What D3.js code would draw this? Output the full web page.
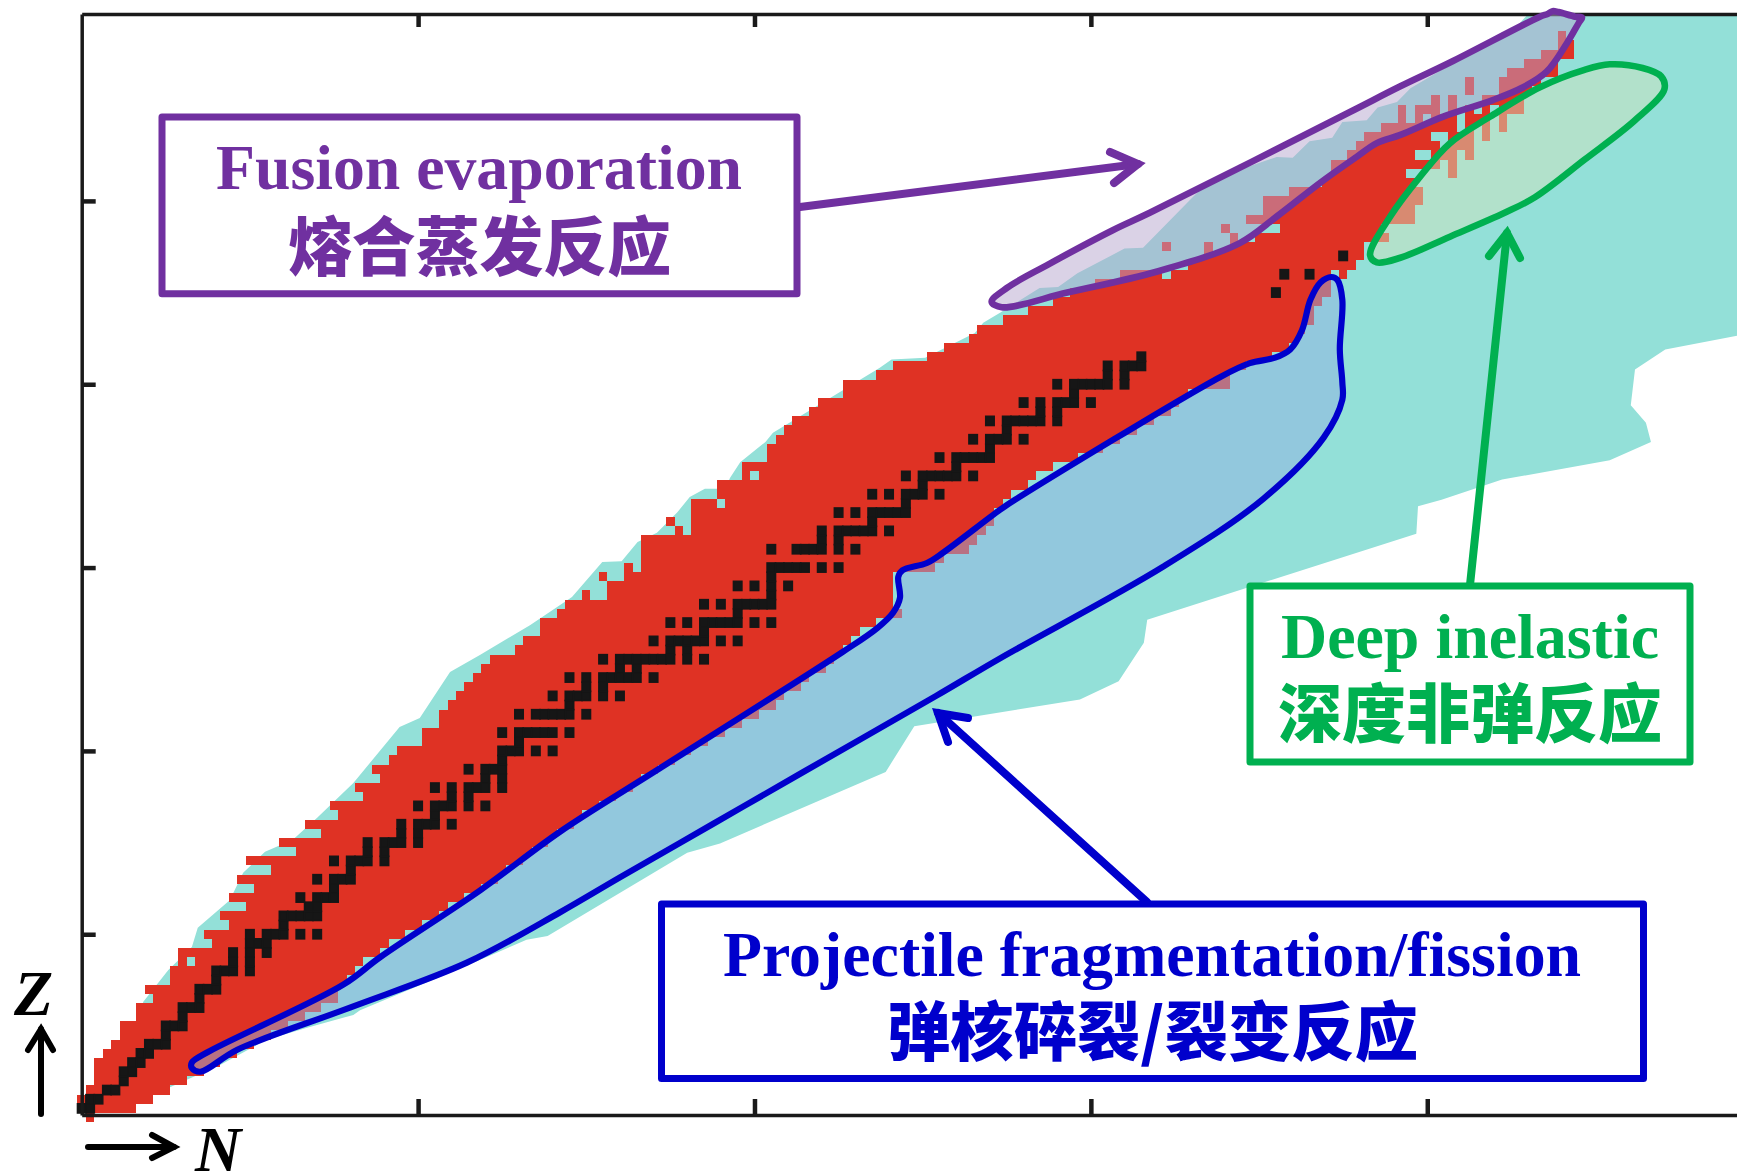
<!DOCTYPE html>
<html><head><meta charset="utf-8">
<script src="https://cdnjs.cloudflare.com/ajax/libs/d3/7.8.5/d3.min.js"></script>
<style>html,body{margin:0;padding:0;background:#fff}svg{display:block}</style>
</head><body><svg id="c" width="1737" height="1172"></svg>
<script>
// Axis ticks (unlabelled in the original)
const nTicks=[40,80,120,160];
const zTicks=[20,40,60,80,100];

// Measured nuclides: [Z, first N, last N]
const measuredRuns=[[0,1,1],[1,0,6],[2,0,8],[3,1,10],[4,2,12],[5,2,14],[6,2,16],[7,3,18],[8,4,20],[9,5,22],[10,5,24],[11,7,26],[12,7,28],[13,9,30],[14,8,30],[15,11,31],[16,11,32],[17,12,12],[17,14,33],[18,12,35],[19,16,36],[20,15,38],[21,18,40],[22,17,42],[23,20,43],[24,18,45],[25,21,47],[26,19,49],[27,23,50],[28,20,52],[29,26,53],[30,24,55],[31,29,56],[32,27,58],[33,31,59],[34,30,61],[35,34,63],[36,33,65],[37,36,66],[38,35,68],[39,37,70],[40,38,72],[41,41,74],[42,41,76],[43,43,78],[44,43,80],[45,44,82],[46,45,83],[47,46,85],[48,47,86],[49,48,88],[50,49,89],[51,52,90],[52,53,91],[53,55,92],[54,55,94],[55,57,97],[56,58,96],[57,60,60],[57,63,96],[58,63,96],[59,62,62],[59,65,96],[60,65,65],[60,67,101],[61,67,102],[62,67,105],[63,67,106],[64,71,71],[64,73,107],[65,70,70],[65,73,108],[66,73,108],[67,73,75],[67,77,109],[68,76,110],[69,76,112],[70,79,79],[70,81,113],[71,79,115],[72,82,118],[73,82,121],[74,83,123],[75,84,125],[76,85,127],[77,87,129],[78,88,130],[79,91,131],[80,91,136],[81,95,136],[82,97,138],[83,101,141],[84,103,143],[85,106,144],[86,107,145],[87,110,146],[88,113,146],[89,116,147],[90,118,148],[91,121,148],[92,124,128],[92,130,148],[92,150,150],[93,132,151],[94,134,152],[95,129,129],[95,134,134],[95,137,152],[96,137,137],[96,140,155],[97,136,136],[97,143,154],[98,139,158],[99,141,158],[100,141,159],[101,144,159],[102,148,158],[103,149,157],[103,163,163],[104,149,161],[104,163,163],[105,151,158],[105,161,163],[105,165,165],[106,152,161],[106,163,165],[107,153,160],[107,163,165],[107,167,167],[108,155,163],[108,165,165],[108,167,167],[108,169,169],[109,157,157],[109,159,159],[109,161,163],[109,165,167],[109,169,169],[110,157,157],[110,159,161],[110,163,163],[110,165,165],[110,167,167],[110,169,171],[111,161,161],[111,163,163],[111,167,171],[112,165,165],[112,169,172],[113,165,165],[113,169,173],[114,170,175],[115,172,175],[116,174,177],[117,176,177],[118,176,176]];

// Stable nuclides: [Z, list of N]
const stableRows=[[1,[0,1]],[2,[1,2]],[3,[3,4]],[4,[5]],[5,[5,6]],[6,[6,7]],[7,[7,8]],[8,[8,9,10]],[9,[10]],[10,[10,11,12]],[11,[12]],[12,[12,13,14]],[13,[14]],[14,[14,15,16]],[15,[16]],[16,[16,17,18,20]],[17,[18,20]],[18,[18,20,22]],[19,[20,21,22]],[20,[20,22,23,24,26,28]],[21,[24]],[22,[24,25,26,27,28]],[23,[27,28]],[24,[26,28,29,30]],[25,[30]],[26,[28,30,31,32]],[27,[32]],[28,[30,32,33,34,36]],[29,[34,36]],[30,[34,36,37,38,40]],[31,[38,40]],[32,[38,40,41,42,44]],[33,[42]],[34,[40,42,43,44,46,48]],[35,[44,46]],[36,[42,44,46,47,48,50]],[37,[48,50]],[38,[46,48,49,50]],[39,[50]],[40,[50,51,52,54,56]],[41,[52]],[42,[50,52,53,54,55,56,58]],[44,[52,54,55,56,57,58,60]],[45,[58]],[46,[56,58,59,60,62,64]],[47,[60,62]],[48,[58,60,62,63,64,65,66,68]],[49,[64,66]],[50,[62,64,65,66,67,68,69,70,72,74]],[51,[70,72]],[52,[68,70,71,72,73,74,76,78]],[53,[74]],[54,[70,72,74,75,76,77,78,80,82]],[55,[78]],[56,[74,76,78,79,80,81,82]],[57,[82]],[58,[78,80,82,84]],[59,[82]],[60,[82,83,84,85,86,88,90]],[62,[82,85,86,87,88,90,92]],[63,[88,90]],[64,[88,90,91,92,93,94,96]],[65,[94]],[66,[90,92,94,95,96,97,98]],[67,[98]],[68,[94,96,98,99,100,102]],[69,[100]],[70,[98,100,101,102,103,104,106]],[71,[104]],[72,[102,104,105,106,107,108]],[73,[108]],[74,[106,108,109,110,112]],[75,[110]],[76,[108,110,111,112,113,114,116]],[77,[114,116]],[78,[112,114,116,117,118,120]],[79,[118]],[80,[116,118,119,120,121,122,124]],[81,[122,124]],[82,[122,124,125,126]],[83,[126]],[90,[142]],[92,[143,146]],[94,[150]]];

// Theoretically predicted region outline: [N, Z]
const predictedOutline=[[7.3,12.6],[10.3,16.1],[13.1,18.6],[13.8,20.7],[17.6,23.7],[19.2,26.7],[21.8,29],[25.1,30.3],[28,32.7],[32.3,36.5],[37.8,42.6],[40.2,43.6],[43.8,48.6],[47.4,50.5],[53.3,53.7],[58.3,56.8],[61.9,60.6],[64.2,60.7],[66.1,62.8],[68.4,63.8],[70.8,66],[72.3,67.7],[74.1,68.6],[76.5,68.6],[77.1,69.8],[78.3,71.5],[81.3,73.7],[82.2,74.7],[94.9,81.8],[96.3,82.7],[100.3,82.9],[106.2,85.6],[107.2,86.7],[109.2,87.8],[113.9,90.5],[116.1,90.6],[118.4,92.1],[124,94.8],[126.2,94.9],[132.1,100.4],[134.2,102.3],[142.1,104.8],[144,104.7],[146,106.5],[148.7,106.9],[149.9,108.6],[152.8,108.8],[154.1,110.2],[156.4,110.8],[158,112.3],[170.8,119.2],[172,120.39],[196.83,120.39],[196.83,85.3],[188.3,83.8],[184.7,81.6],[184.2,77.7],[186,75.8],[186.6,73.7],[181.7,71.7],[168.9,69.6],[161.7,67.4],[158.9,66.7],[158.7,63.7],[126.7,54.3],[126.3,51.8],[123.3,47.6],[118.7,45.6],[99,42.7],[95.6,37.7],[75.9,29.9],[72,28.9],[55.4,19.8],[52.9,19.4],[45.6,16.5],[33.1,11.7],[32.3,11.2],[26.8,9.8],[22,8.5],[16.4,5.7],[10.5,3.3],[7,1.9]];

// Reaction regions: [N, Z]
const fragmentationRegion=[[13.1,5.4],[14.1,5],[18.5,7.4],[31.9,12],[45.8,16.9],[56.9,22.4],[64,26.2],[75,32],[85.8,37.7],[101.6,46],[109.2,50.1],[128.6,60.1],[140.5,67.5],[147.7,74.2],[149.9,78.3],[149.9,80.2],[149.6,83.8],[149.9,89.2],[149.3,91.4],[148.6,91.7],[147.3,91.1],[146.1,89.2],[145.1,85.9],[143.7,83.8],[141.9,82.9],[138.9,82.3],[135.4,80.8],[111,67.4],[109.2,66.3],[102.4,61.6],[100.5,60.5],[97.6,59.7],[97.1,59],[97.3,56.7],[96.5,55.1],[94.6,53.4],[90.5,50.8],[68.4,37.9],[56.9,31.2],[47.4,24.8],[35.5,17.5],[31.1,14.5],[14.9,7.1],[13.1,6]];
const fusionRegion=[[108.2,89],[109.4,88.4],[117.2,90],[127.9,92.3],[137.7,95.4],[142.1,98.3],[147.3,102],[151.6,104.8],[154,106.3],[156.8,107.2],[161.9,109.2],[167.8,111],[171.4,112.4],[174.2,114.1],[176.6,117.2],[178,119.4],[178.4,120],[177.6,120.1],[175.6,120.6],[174.9,120.7],[174.3,120.4],[173.4,120.1],[162.7,115.1],[156.8,112.5],[150.8,109.7],[127,98.7],[122.6,96.8],[114.8,93],[110,90.5]];
const inelasticRegion=[[153.2,94.1],[154,93.3],[156.8,93.8],[162.7,96.1],[169.2,98.7],[172.8,100.4],[178.7,104.5],[184.7,108.8],[188.2,112.2],[187.8,113.6],[185.6,114.5],[181.7,114.9],[178.7,114.3],[173.4,112.4],[167.5,109.2],[162.7,106.3],[159.1,102.6],[155.6,98.3]];

// Text
const fusionText=["Fusion evaporation","熔合蒸发反应"];
const fragText=["Projectile fragmentation/fission","弹核碎裂/裂变反应"];
const inelText=["Deep inelastic","深度非弹反应"];

const svg=d3.select("#c");
const xN=d3.scaleLinear().domain([0,196.83]).range([81.7,1737]);
const yZ=d3.scaleLinear().domain([0.28,120.39]).range([1115,14]);

const RED="#df3224",TEAL="#93e0d8",BLK="#161616";
const PURPLE="#7030a0",BLUE="#0000cc",GREEN="#00b050";

// predicted region
const straight=d3.line().x(d=>xN(d[0])).y(d=>yZ(d[1])).curve(d3.curveLinearClosed);
svg.append("path").attr("d",straight(predictedOutline)).attr("fill",TEAL);

// measured cells
svg.append("g").attr("shape-rendering","crispEdges").selectAll("rect").data(measuredRuns).join("rect")
  .attr("x",d=>xN(d[1]-.5)).attr("width",d=>xN(d[2]+.5)-xN(d[1]-.5))
  .attr("y",d=>yZ(d[0]+.5)).attr("height",d=>yZ(d[0]-.5)-yZ(d[0]+.5))
  .attr("fill",RED);

// stable cells
const stableCells=stableRows.flatMap(([z,ns])=>ns.map(n=>[z,n]));
svg.append("g").selectAll("rect").data(stableCells).join("rect")
  .attr("x",d=>xN(d[1]-.5)).attr("width",d=>xN(d[1]+.5)-xN(d[1]-.5))
  .attr("y",d=>yZ(d[0]+.5)).attr("height",d=>yZ(d[0]-.5)-yZ(d[0]+.5))
  .attr("fill",BLK).attr("stroke",BLK).attr("stroke-width",1.6);

// axes
function styleAxis(g){
  g.selectAll("path.domain").attr("stroke","#1a1a1a").attr("stroke-width",3.5);
  g.selectAll(".tick line").attr("stroke","#1a1a1a").attr("stroke-width",4.5);
  g.selectAll("text").remove();
}
svg.append("g").attr("transform","translate(0,1115)").call(d3.axisBottom(xN).tickValues(nTicks).tickSize(-16).tickSizeOuter(0)).call(styleAxis);
svg.append("g").attr("transform","translate(0,14)").call(d3.axisTop(xN).tickValues(nTicks).tickSize(-13).tickSizeOuter(0)).call(styleAxis);
svg.append("g").attr("transform","translate(81.7,0)").call(d3.axisLeft(yZ).tickValues(zTicks).tickSize(-14).tickSizeOuter(0)).call(styleAxis);

// reaction regions
const smooth=d3.line().x(d=>xN(d[0])).y(d=>yZ(d[1])).curve(d3.curveCatmullRomClosed.alpha(.5));
[[fragmentationRegion,"rgba(145,175,225,.5)",BLUE,6.2],
 [fusionRegion,"rgba(181,165,205,.5)",PURPLE,6.6],
 [inelasticRegion,"rgba(210,226,190,.5)",GREEN,6.6]].forEach(([pts,f,s,w])=>{
  svg.append("path").attr("d",smooth(pts)).attr("fill",f).attr("stroke",s).attr("stroke-width",w).attr("stroke-linejoin","round");
});

// annotation boxes
function box(x0,y0,x1,y1,col,lines,t1,t2){
  svg.append("rect").attr("x",x0).attr("y",y0).attr("width",x1-x0).attr("height",y1-y0)
    .attr("fill","#fff").attr("stroke",col).attr("stroke-width",7).attr("stroke-linejoin","round");
  svg.append("text").text(lines[0]).attr("x",t1[0]).attr("y",t1[1]).attr("textLength",t1[2]).attr("lengthAdjust","spacingAndGlyphs")
    .attr("font-family","'Liberation Serif',serif").attr("font-weight",700).attr("font-size",64).attr("fill",col);
  svg.append("text").text(lines[1]).attr("x",t2[0]).attr("y",t2[1]).attr("textLength",t2[2]).attr("lengthAdjust","spacingAndGlyphs")
    .attr("font-family","'Noto Sans CJK SC',sans-serif").attr("font-weight",900).attr("font-size",t2[3]).attr("fill",col);
}
function arrow(from,tip,b1,b2,col,w){
  const g=svg.append("g").attr("fill","none").attr("stroke",col).attr("stroke-width",w).attr("stroke-linecap","round").attr("stroke-linejoin","miter");
  g.append("line").attr("x1",from[0]).attr("y1",from[1]).attr("x2",tip[0]).attr("y2",tip[1]);
  g.append("path").attr("d",d3.line()([b1,tip,b2]));
}
arrow([800,207],[1138,164],[1110,152],[1114,183],PURPLE,8);
arrow([1147,902],[938,713],[968,718],[948,742],BLUE,8);
arrow([1470,585],[1507,233],[1489,256],[1520,258],GREEN,8);
box(162,117,797,293.7,PURPLE,fusionText,[216,189,526],[288,270,383,64]);
box(661.5,904,1643.5,1078.5,BLUE,fragText,[723,976,858],[887,1055,531,64]);
box(1250,586,1690,762,GREEN,inelText,[1281,658,378],[1278,737,384,64]);

// axis name arrows
arrow([41,1114],[41,1029],[28,1050],[53,1050],"#000",6);
arrow([88,1147],[174,1147],[152,1135],[152,1158],"#000",6);
const lab=(t,x,y)=>svg.append("text").text(t).attr("x",x).attr("y",y).attr("font-family","'Liberation Serif',serif").attr("font-style","italic").attr("font-weight",700).attr("font-size",64).attr("fill","#000");
lab("Z",14,1015);
lab("N",195,1171);
</script></body></html>
